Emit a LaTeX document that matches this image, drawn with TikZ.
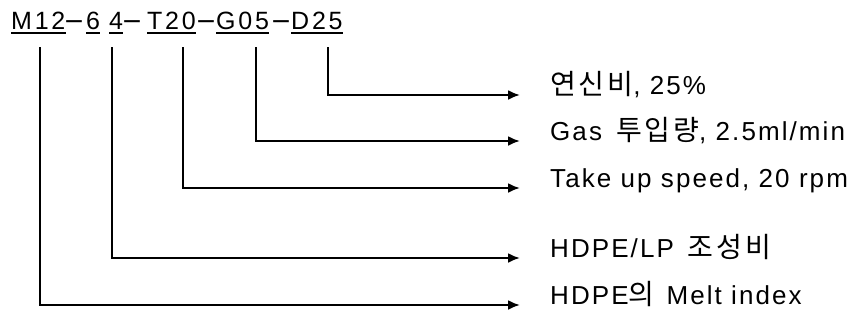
\documentclass[tikz,border=0pt]{standalone}
\usepackage{fontspec}
\setmainfont{Liberation Sans}[LetterSpace=8]
\newfontfamily\codefont{Liberation Sans}[LetterSpace=11]
\newfontfamily\kr{Noto Sans CJK KR}[LetterSpace=10, Scale=1.08]
\newfontfamily\dv{DejaVu Sans}
\usetikzlibrary{arrows.meta}
\begin{document}
\begin{tikzpicture}[x=1pt,y=-1pt,
  codetxt/.style={anchor=base west, inner sep=0pt, font=\fontsize{25}{29}\selectfont\codefont},
  dashtxt/.style={anchor=base, inner sep=0pt, font=\fontsize{25}{29}\selectfont\dv},
  lbl/.style={anchor=base west, inner sep=0pt, font=\fontsize{26}{30}\selectfont},
  ul/.style={line width=1.8pt},
  lead/.style={line width=2.2pt, -{Latex[length=12pt,width=10pt]}}]
\useasboundingbox (0,0) rectangle (859,322);
% code line
\node[codetxt] (m12) at (11,29) {M12};
\node[codetxt] (six) at (86,29) {6};
\node[codetxt] (four) at (109,29) {4};
\node[codetxt] (t20) at (147,29) {T20};
\node[codetxt] (g05) at (216,29) {G05};
\node[codetxt] (d25) at (291,29) {D25};
\node[dashtxt] (s1) at (74,29) {−};
\node[dashtxt] (s2) at (132,29) {−};
\node[dashtxt] (s3) at (206,29) {−};
\node[dashtxt] (s4) at (281,29) {−};
\foreach \n in {m12,six,four,t20,g05,d25}
  \draw[ul] ([yshift=-4pt]\n.base west) -- ([yshift=-4pt]\n.base east);
% leader start points
\coordinate (v1) at (40,47);
\coordinate (v2) at (112,47);
\coordinate (v3) at (183,47);
\coordinate (v4) at (256,47);
\coordinate (v5) at (328,47);
% arrow ends
\coordinate (a5) at (520,95);
\coordinate (a4) at (520,141);
\coordinate (a3) at (520,188);
\coordinate (a2) at (520,258);
\coordinate (a1) at (520,305);
% labels
\node[lbl] (l5) at (550,94) {{\kr 연신비}, 25\%};
\node[lbl] (l4) at (550,140) {Gas\hspace{14pt}{\kr 투입량}, 2.5ml/min};
\node[lbl] (l3) at (550,187) {Take up speed, 20 rpm};
\node[lbl] (l2) at (550,257) {HDPE/LP\hspace{14pt}{\kr 조성비}};
\node[lbl] (l1) at (550,304) {HDPE{\kr 의}\hspace{12pt}Melt index};
% leaders
\draw[lead] (v1) |- (a1);
\draw[lead] (v2) |- (a2);
\draw[lead] (v3) |- (a3);
\draw[lead] (v4) |- (a4);
\draw[lead] (v5) |- (a5);
\end{tikzpicture}
\end{document}
